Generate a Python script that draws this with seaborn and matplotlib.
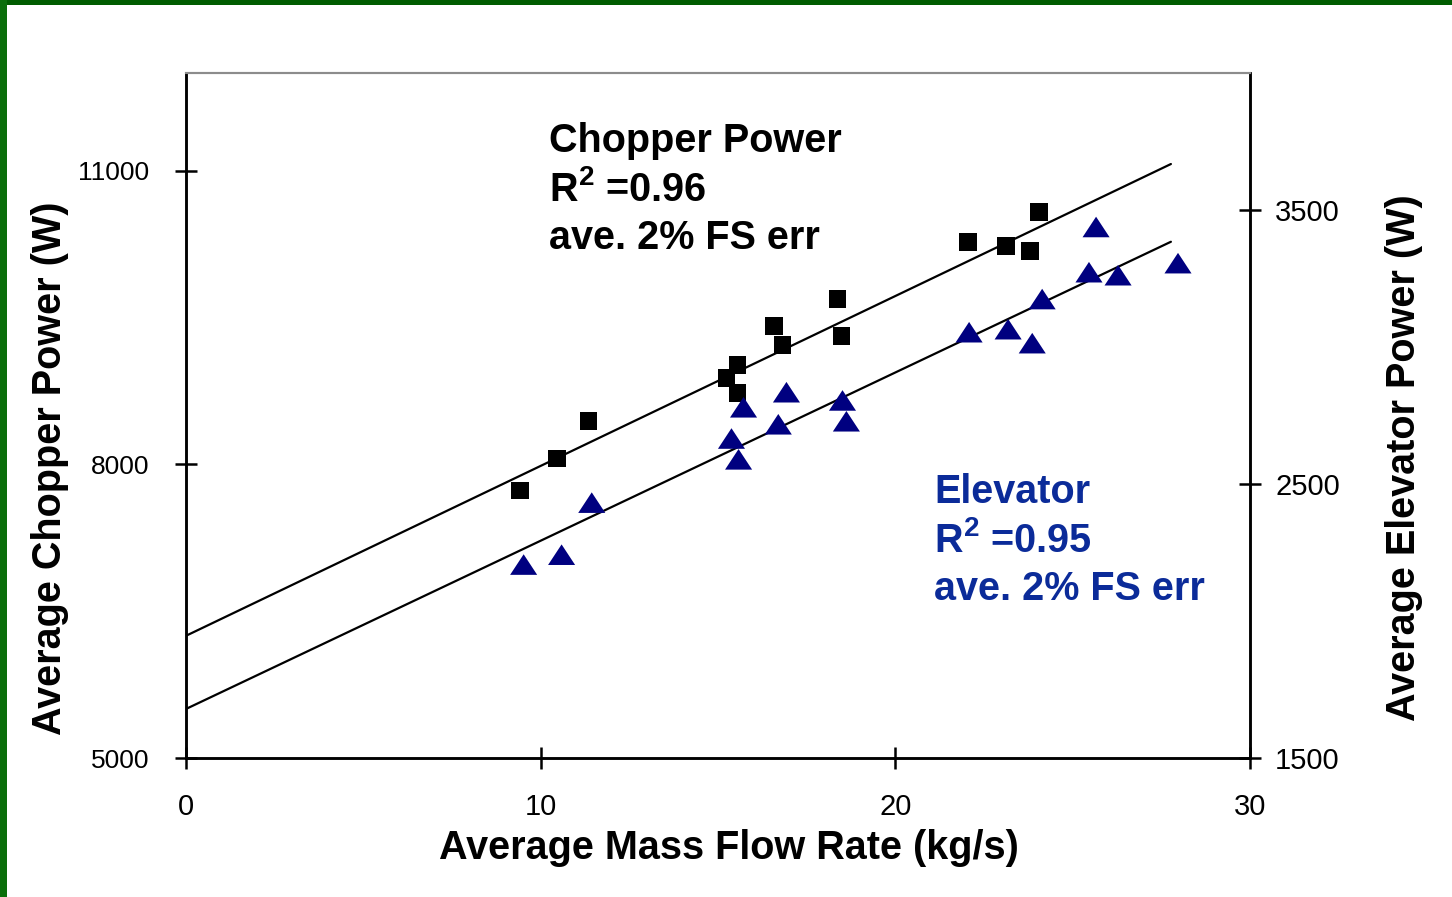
import numpy as np
import pandas as pd
import matplotlib
matplotlib.use("Agg")
import matplotlib.pyplot as plt
from matplotlib.patches import Rectangle
from matplotlib.path import Path
import seaborn as sns

# ---------------- data ----------------
chopper_flow = [9.41, 10.45, 11.35, 15.24, 15.55, 15.55, 16.59, 16.82, 18.37, 18.48,
                22.06, 23.13, 23.80, 24.06]
chopper_power = [7734, 8061, 8440, 8880, 9013, 8727, 9412, 9217, 9688, 9310,
                 10271, 10230, 10179, 10579]

elevator_flow = [9.52, 10.59, 11.44, 15.38, 15.58, 15.72, 16.70, 16.93, 18.51, 18.62,
                 22.08, 23.18, 23.86, 24.14, 25.46, 25.66, 26.28, 27.97]
elevator_power = [2206, 2242, 2432, 2666, 2590, 2780, 2718, 2835, 2805, 2729,
                  3054, 3065, 3014, 3175, 3273, 3438, 3262, 3306]

chopper_fit = {"slope": 173.6, "intercept": 6249}
elevator_fit = {"slope": 61.4, "intercept": 1679}
fit_x = [0, 27.77]

x_ticks = [0, 10, 20, 30]
left_ticks = [5000, 8000, 11000]
right_ticks = [1500, 2500, 3500]

chopper_text = ["Chopper Power", r"R$^{\mathbf{2}}$ =0.96", "ave. 2% FS err"]
elevator_text = ["Elevator", r"R$^{\mathbf{2}}$ =0.95", "ave. 2% FS err"]

# ---------------- style ----------------
sns.set_theme(style="white")
plt.rcParams["font.family"] = ["Liberation Sans", "DejaVu Sans"]
plt.rcParams["mathtext.fontset"] = "custom"
plt.rcParams["mathtext.rm"] = "Liberation Sans:bold"
plt.rcParams["mathtext.bf"] = "Liberation Sans:bold"

W, H = 1452, 897
fig = plt.figure(figsize=(W / 100, H / 100), dpi=100)
fig.patch.set_facecolor("white")

L, R, T, B = 186, 1250, 73, 758
ax = fig.add_axes([L / W, 1 - B / H, (R - L) / W, (B - T) / H])
ax2 = ax.twinx()

navy = "#000080"
text_blue = "#0b2b99"

chop_df = pd.DataFrame({"flow": chopper_flow, "power": chopper_power})
elev_df = pd.DataFrame({"flow": elevator_flow, "power": elevator_power})

tri = Path([(0, 0.38), (-0.5, -0.38), (0.5, -0.38), (0, 0.38)],
           [Path.MOVETO, Path.LINETO, Path.LINETO, Path.CLOSEPOLY])

# fit lines
fx = np.array(fit_x, dtype=float)
sns.lineplot(x=fx, y=chopper_fit["slope"] * fx + chopper_fit["intercept"],
             ax=ax, color="black", linewidth=1.6, zorder=2)
sns.lineplot(x=fx, y=elevator_fit["slope"] * fx + elevator_fit["intercept"],
             ax=ax2, color="black", linewidth=1.6, zorder=2)

sns.scatterplot(data=chop_df, x="flow", y="power", ax=ax, marker="s", s=165,
                color="black", edgecolor="none", zorder=3)
sns.scatterplot(data=elev_df, x="flow", y="power", ax=ax2, marker=tri, s=380,
                color=navy, edgecolor="none", zorder=3)

ax.set_xlim(0, 30)
ax.set_ylim(5000, 12000)
ax2.set_ylim(1500, 4000)

ax.set_xticks(x_ticks)
ax.set_yticks(left_ticks)
ax2.set_yticks(right_ticks)
ax.set_xticklabels([str(v) for v in x_ticks])
ax.set_yticklabels([str(v) for v in left_ticks])
ax2.set_yticklabels([str(v) for v in right_ticks])

for a in (ax, ax2):
    a.grid(False)
    a.set_facecolor("none")
ax.patch.set_facecolor("white")

ax.tick_params(axis="both", which="major", direction="inout", length=16, width=1.8,
               color="black", labelcolor="black",
               bottom=True, left=True, top=False, right=False)
ax.tick_params(axis="y", pad=18.5, labelsize=19)
ax.tick_params(axis="x", pad=17.5, labelsize=21)
ax2.tick_params(axis="y", direction="inout", length=16, width=1.8, color="black",
                labelsize=21, labelcolor="black", pad=10, right=True, left=False)

for a in (ax, ax2):
    a.spines["left"].set_color("black")
    a.spines["left"].set_linewidth(1.8)
    a.spines["bottom"].set_color("black")
    a.spines["bottom"].set_linewidth(1.8)
    a.spines["right"].set_color("black")
    a.spines["right"].set_linewidth(1.8)
    a.spines["top"].set_color("#8c8c8c")
    a.spines["top"].set_linewidth(1.5)

ax.set_xlabel("")
ax.set_ylabel("")
ax2.set_ylabel("")
lab_kw = dict(fontsize=28.5, fontweight="bold", color="black")
fig.text(729 / W, 1 - 848 / H, "Average Mass Flow Rate (kg/s)", ha="center", va="center", **lab_kw)
fig.text(50 / W, 1 - 468 / H, "Average Chopper Power (W)", ha="center", va="center",
         rotation=90, **lab_kw)
fig.text(1404 / W, 1 - 458 / H, "Average Elevator Power (W)", ha="center", va="center",
         rotation=90, **lab_kw)

# annotations
for i, line in enumerate(chopper_text):
    fig.text(549 / W, 1 - (141 + 48.5 * i) / H, line, ha="left", va="center",
             fontsize=28.5, fontweight="bold", color="black")
for i, line in enumerate(elevator_text):
    fig.text(934 / W, 1 - (492 + 48.5 * i) / H, line, ha="left", va="center",
             fontsize=28.5, fontweight="bold", color=text_blue)

# green frame (top and left edges)
fig.patches.append(Rectangle((0, 1 - 5 / H), 1, 5 / H, transform=fig.transFigure,
                             facecolor="#005c00", edgecolor="none", zorder=10))
fig.patches.append(Rectangle((0, 0), 7 / W, 1, transform=fig.transFigure,
                             facecolor="#0a6e0a", edgecolor="none", zorder=10))

fig.savefig("out.png", dpi=100, facecolor="white")
